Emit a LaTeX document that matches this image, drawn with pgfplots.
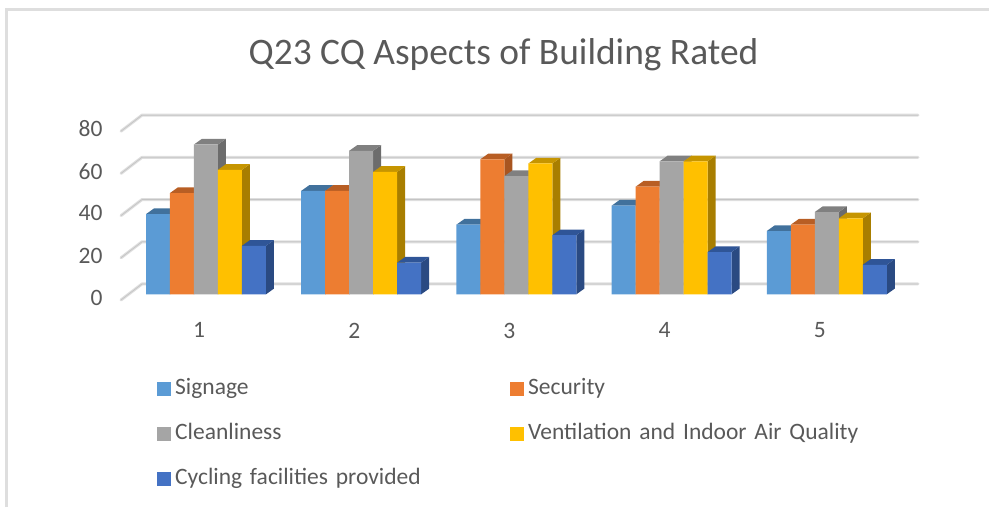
\documentclass[border=0pt]{standalone}
\usepackage{pgfplots}
\pgfplotsset{compat=1.18}
\usepackage{fontspec}
\setmainfont{Carlito}
\definecolor{txt}{HTML}{595959}
\definecolor{gridc}{HTML}{DEDEDE}
\definecolor{gridd}{HTML}{C4C4C4}
\definecolor{aF}{HTML}{5B9BD5}\definecolor{aT}{HTML}{41719C}\definecolor{aS}{HTML}{3A6A96}
\definecolor{bF}{HTML}{ED7D31}\definecolor{bT}{HTML}{B85E24}\definecolor{bS}{HTML}{A85520}
\definecolor{cF}{HTML}{A5A5A5}\definecolor{cT}{HTML}{808080}\definecolor{cS}{HTML}{6C6C6C}
\definecolor{dF}{HTML}{FFC000}\definecolor{dT}{HTML}{C69500}\definecolor{dS}{HTML}{A87E00}
\definecolor{eF}{HTML}{4472C4}\definecolor{eT}{HTML}{2F5597}\definecolor{eS}{HTML}{2A4A82}
% one 3-D bar: group, position in the group, value, colour prefix
\newcommand{\threedbar}[4]{%
  \pgfmathsetmacro\xa{#1-0.3866+#2*0.1546}%
  \pgfmathsetmacro\xb{\xa+0.1546}%
  \pgfmathsetmacro\xc{\xb+0.0515}%
  \pgfmathsetmacro\xd{\xa+0.0515}%
  \pgfmathsetmacro\yt{#3+2.7}%
  \addplot[forget plot,fill=#4S,draw=none] coordinates {(\xb,0) (\xc,2.7) (\xc,\yt) (\xb,#3) (\xb,0)};
  \addplot[forget plot,fill=#4T,draw=none] coordinates {(\xa,#3) (\xd,\yt) (\xc,\yt) (\xb,#3) (\xa,#3)};
  \addplot[forget plot,fill=#4F,draw=none] coordinates {(\xa,0) (\xb,0) (\xb,#3) (\xa,#3) (\xa,0)};
}
\newcommand{\threedgroup}[6]{%
  \threedbar{#1}{0}{#2}{a}\threedbar{#1}{1}{#3}{b}\threedbar{#1}{2}{#4}{c}%
  \threedbar{#1}{3}{#5}{d}\threedbar{#1}{4}{#6}{e}%
}
\newcommand{\wall}[1]{%
  \pgfmathsetmacro\ya{#1-2.7}\pgfmathsetmacro\yb{#1+4.9}%
  \addplot[forget plot,gridc,line width=3pt,line cap=round,line join=round] coordinates {(0.4523,\ya) (0.5876,\yb) (5.5876,\yb)};
  \addplot[forget plot,gridd,line width=0.7pt] coordinates {(0.4523,\ya) (0.5876,\yb) (5.5876,\yb)};
}
\begin{document}
\begin{tikzpicture}[x=1pt,y=1pt]
\path[use as bounding box] (0,0) rectangle (989,507);
\draw[gridc,line width=2.5pt] (6.5,0) -- (6.5,497.5) -- (989,497.5);
\node[text=txt,font=\fontsize{37.4}{40}\selectfont] at (503.5,452) {Q23 CQ Aspects of Building Rated};
\begin{axis}[
  at={(121pt,212.7pt)},anchor=south west,
  scale only axis,width=797pt,height=168.8pt,
  xmin=0.4523,xmax=5.5876,ymin=0,ymax=80,clip=false,
  axis line style={draw=none},
  major tick length=0pt,
  xtick={1,2,3,4,5},ytick={0,20,40,60,80},
  /pgf/number format/assume math mode=true,
  tick label style={text=txt,font=\fontsize{23.5}{26}\selectfont},
  xticklabel style={xshift=-7pt,yshift=-25pt},
  yticklabel style={xshift=-15pt,yshift=-3.5pt},
  legend columns=2,
  legend cell align=left,
  legend image code/.code={\path[draw=none,fill=none] (0pt,0pt) -- (18pt,0pt);\fill[#1,draw=none] (0pt,-7pt) rectangle (14pt,7pt);},
  legend style={at={(36pt,-79pt)},anchor=north west,draw=none,fill=none,
    inner sep=0pt,font=\fontsize{23.5}{26}\selectfont,text=txt,
    /tikz/every even column/.style={column sep=0pt},
    /tikz/row sep=25pt,
    nodes={inner sep=0pt,text height=15pt,text depth=5pt,text width=335pt,align=left,anchor=west,xshift=7pt}},
]
\wall{0}\wall{20}\wall{40}\wall{60}\wall{80}
\threedgroup{1}{38}{48}{71}{59}{23}
\threedgroup{2}{49}{49}{68}{58}{15}
\threedgroup{3}{33}{64}{56}{62}{28}
\threedgroup{4}{42}{51}{63}{63}{20}
\threedgroup{5}{30}{33}{39}{36}{14}
\addlegendimage{fill=aF}\addlegendentry{Signage}
\addlegendimage{fill=bF}\addlegendentry{Security}
\addlegendimage{fill=cF}\addlegendentry{Cleanliness}
\addlegendimage{fill=dF}\addlegendentry{Ventilation and Indoor Air Quality}
\addlegendimage{fill=eF}\addlegendentry{Cycling facilities provided}
\end{axis}
\end{tikzpicture}
\end{document}
